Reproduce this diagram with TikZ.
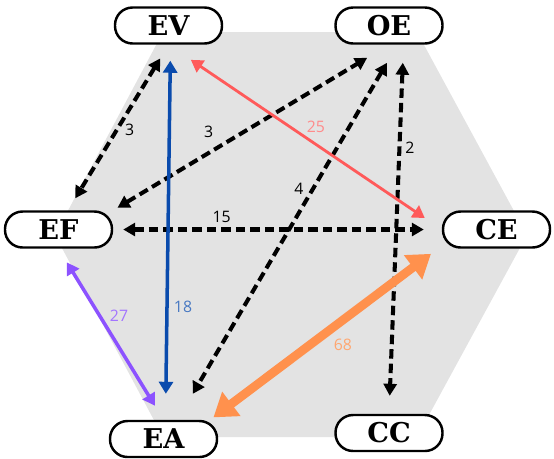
\documentclass[tikz,border=0pt]{standalone}
\usepackage{fontspec}
\setmainfont{Open Sans}
\newfontfamily\boxfont{DejaVu Serif}
\usetikzlibrary{arrows.meta}
\definecolor{hexgray}{HTML}{E3E3E3}
\definecolor{linkblue}{HTML}{0A4BAD}
\definecolor{linkred}{HTML}{FF5A5A}
\definecolor{linkpurple}{HTML}{8C52FF}
\definecolor{linkorange}{HTML}{FF914D}
\begin{document}
\begin{tikzpicture}[x=0.02cm, y=-0.02cm, line join=round,
	box/.style={draw, line width=1.4pt, fill=white, rounded corners=0.35cm, minimum width=2.14cm, minimum height=0.72cm, font=\boxfont\bfseries\fontsize{15.5}{16}\selectfont},
	weight/.style={font=\fontsize{9}{10}\selectfont, inner sep=0pt},
	dashlink/.style={line width=2.3pt, dash pattern=on 0.19cm off 0.1cm, {Triangle[length=0.24cm,width=0.26cm]}-{Triangle[length=0.24cm,width=0.26cm]}},
	solidlink/.style={line width=2pt, {Triangle[length=0.24cm,width=0.28cm]}-{Triangle[length=0.24cm,width=0.28cm]}}]
	\useasboundingbox (0,0) rectangle (554,458);
	% hexagon behind everything
	\fill[hexgray] (163,32)--(417,32)--(527,235)--(417,437)--(163,437)--(55,235)--cycle;
	% the six boxes
	\node[box] (EV) at (168.5,25.5) {EV};
	\node[box] (OE) at (389,25.5) {OE};
	\node[box] (EF) at (58.5,229.5) {EF};
	\node[box] (CE) at (496.5,229.5) {CE};
	\node[box] (EA) at (163.5,439) {EA};
	\node[box] (CC) at (389,433) {CC};
	% black dashed links
	\draw[dashlink, shorten <=0.32cm, shorten >=0.28cm] (EV.south) -- ([xshift=0.19cm]EF.north)
		node[weight, pos=0.48, shift={(9.5,5.7)}] {3};
	\draw[dashlink, shorten <=0.1cm, shorten >=0.51cm] (EF.north east) -- (OE.south)
		node[weight, pos=0.38, shift={(-9.4,-15.4)}] {3};
	\draw[dashlink, shorten <=0.42cm, shorten >=0.6cm] ([xshift=0.17cm]OE.south) -- ([xshift=0.28cm]EA.north)
		node[weight, pos=0.4, shift={(-10.5,-6)}] {4};
	\draw[dashlink, shorten <=0.36cm, shorten >=0.36cm] ([xshift=0.29cm]OE.south) -- (CC.north)
		node[weight, pos=0.28, shift={(10.4,0)}] {2};
	\draw[dashlink, shorten <=0.2cm, shorten >=0.36cm] (EF.east) -- (CE.west)
		node[weight, pos=0.33, shift={(0,-12.5)}] {15};
	% coloured links
	\draw[solidlink, linkblue, shorten <=0.32cm, shorten >=0.52cm] ([xshift=0.04cm]EV.south) -- ([xshift=0.04cm]EA.north)
		node[weight, pos=0.7, shift={(16,0)}, text=linkblue!75!white] {18};
	\draw[solidlink, linkred, line width=1.6pt, shorten <=0.54cm, shorten >=0.41cm] (EV.south) -- (CE.west)
		node[weight, pos=0.51, shift={(8,-12)}, text=linkred!70!white] {25};
	\draw[solidlink, linkpurple, shorten <=0.32cm, shorten >=0.33cm] (EF.south) -- (EA.north)
		node[weight, pos=0.44, shift={(14.3,-8.6)}, text=linkpurple!80!white] {27};
	\draw[linkorange, line width=5pt, {Triangle[length=0.45cm,width=0.58cm]}-{Triangle[length=0.45cm,width=0.58cm]}, shorten <=0.08cm, shorten >=0.17cm] ([xshift=-0.16cm]EA.north east) -- ([xshift=-0.08cm]CE.south west)
		node[weight, pos=0.53, shift={(12.1,15.9)}, text=linkorange!80!white] {68};
\end{tikzpicture}
\end{document}
